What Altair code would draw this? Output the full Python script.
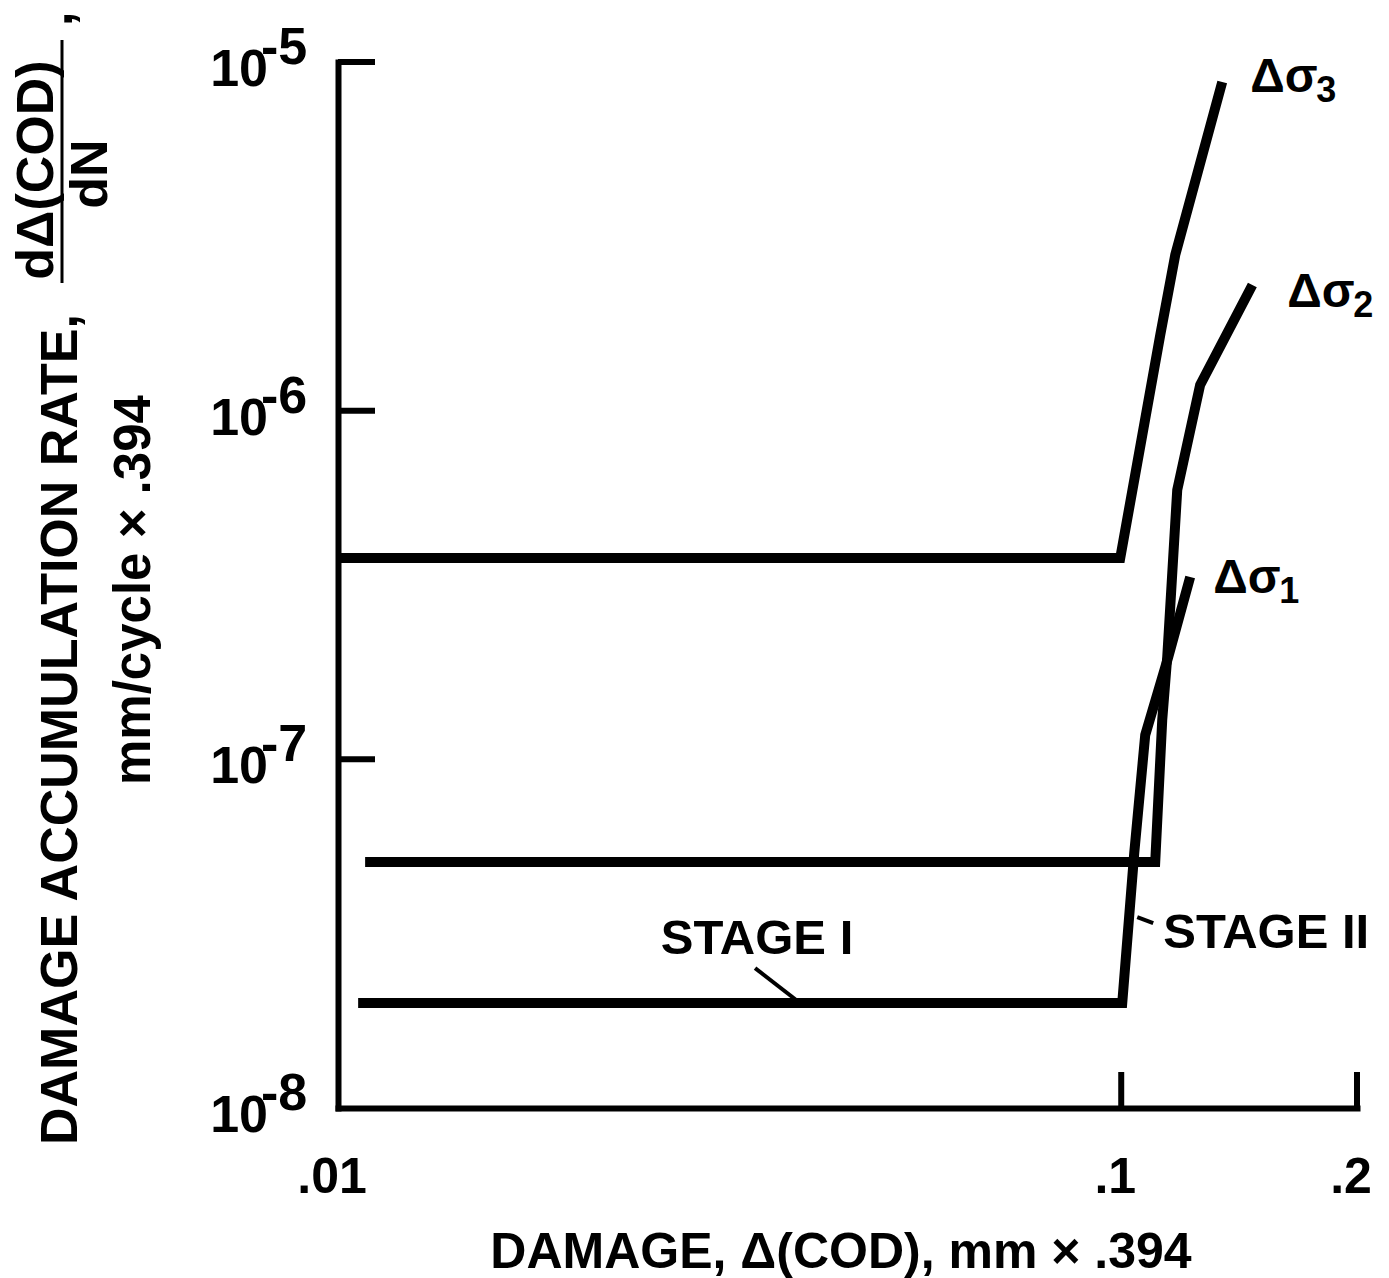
import altair as alt
import pandas as pd

FONT = "Liberation Sans"

# ---------------- data ----------------
# Delta-sigma-3
s3_x = [0.0100, 0.09971, 0.11215, 0.11721, 0.13457]
s3_y = [3.778e-7, 3.778e-7, 1.648e-6, 2.796e-6, 8.76e-6]
# Delta-sigma-2
s2_x = [0.01083, 0.11051, 0.11281, 0.11448, 0.11790, 0.12611, 0.14704]
s2_y = [5.077e-8, 5.077e-8, 1.297e-7, 1.965e-7, 5.923e-7, 1.185e-6, 2.293e-6]
# Delta-sigma-1
s1_x = [0.01061, 0.10030, 0.10390, 0.10731, 0.11482, 0.12247]
s1_y = [2.001e-8, 2.001e-8, 5.387e-8, 1.174e-7, 1.965e-7, 3.334e-7]

series_names = ["Δσ3", "Δσ2", "Δσ1"]

# tick values / labels
x_ticks = [0.01, 0.1, 0.2]
x_tick_labels = [".01", ".1", ".2"]
x_inner_ticks = [0.1, 0.2]
y_ticks = [1e-5, 1e-6, 1e-7, 1e-8]
y_tick_exps = ["-5", "-6", "-7", "-8"]
y_inner_ticks = [1e-5, 1e-6, 1e-7]

# curve labels (Δσ + subscript digit)
lab_main = ["Δσ", "Δσ", "Δσ"]
lab_sub = ["3", "2", "1"]
lab_x = [0.14617, 0.16293, 0.13106]
lab_y = [8.203e-6, 1.983e-6, 2.999e-7]

# stage annotations
stage1_text = ["STAGE I"]
stage1_x = [0.03428]
stage1_y = [2.764e-8]
stage2_text = ["STAGE II"]
stage2_x = [0.11314]
stage2_y = [2.876e-8]
# leader lines
lead_x = [0.03408, 0.10482]
lead_y = [2.52e-8, 3.530e-8]
lead_x2 = [0.03890, 0.10986]
lead_y2 = [2.001e-8, 3.393e-8]

x_title = "DAMAGE, Δ(COD), mm × .394"
y_title1 = "DAMAGE ACCUMULATION RATE,"
y_title2 = "mm/cycle × .394"
frac_num = "dΔ(COD)"
frac_den = "dN"

# ---------------- build tables ----------------
rows = []
for name, xs, ys in zip(series_names, [s3_x, s2_x, s1_x], [s3_y, s2_y, s1_y]):
    for i, (a, b) in enumerate(zip(xs, ys)):
        rows.append({"series": name, "i": i, "x": a, "y": b})
df = pd.DataFrame(rows)

W, H = 1019, 1046
xscale = alt.Scale(type="log", domain=[0.01, 0.2], nice=False)
yscale = alt.Scale(type="log", domain=[1e-8, 1e-5], nice=False)

axis_common = dict(domain=True, domainWidth=6, domainColor="black", domainCap="square",
                   ticks=False, labels=False, grid=False, title="")


def X(f):
    return alt.X(f, type="quantitative", scale=xscale, axis=alt.Axis(**axis_common))


def Y(f):
    return alt.Y(f, type="quantitative", scale=yscale, axis=alt.Axis(**axis_common))


lines = alt.Chart(df).mark_line(color="black", strokeWidth=10, strokeJoin="miter").encode(
    x=X("x"), y=Y("y"), detail="series:N", order="i:Q",
)

yt = alt.Chart(pd.DataFrame({"v": y_inner_ticks})).mark_rule(color="black", strokeWidth=6).encode(
    y=Y("v"), x=alt.value(0), x2=alt.value(37)
)
xt = alt.Chart(pd.DataFrame({"v": x_inner_ticks})).mark_rule(color="black", strokeWidth=6).encode(
    x=X("v"), y=alt.value(H), y2=alt.value(H - 36)
)

txt = dict(font=FONT, fontWeight="bold", color="black")

ylab_df = pd.DataFrame({"v": y_ticks, "e": y_tick_exps})
ylab_base = alt.Chart(ylab_df).mark_text(align="right", baseline="alphabetic", dy=24, fontSize=52, **txt).encode(
    y=Y("v"), x=alt.value(-70), text=alt.value("10")
)
ylab_exp = alt.Chart(ylab_df).mark_text(align="left", baseline="alphabetic", dy=2, fontSize=52, **txt).encode(
    y=Y("v"), x=alt.value(-77), text="e:N"
)

xlab = alt.Chart(pd.DataFrame({"v": x_ticks, "t": x_tick_labels})).mark_text(
    align="center", baseline="alphabetic", dx=-6, fontSize=50, **txt
).encode(x=X("v"), y=alt.value(1131), text="t:N")

lab_df = pd.DataFrame({"x": lab_x, "y": lab_y, "m": lab_main, "s": lab_sub})
lab_main_l = alt.Chart(lab_df).mark_text(align="left", baseline="alphabetic", fontSize=48, **txt).encode(
    x=X("x"), y=Y("y"), text="m:N"
)
lab_sub_l = alt.Chart(lab_df).mark_text(align="left", baseline="alphabetic", dx=66, dy=10, fontSize=36, **txt).encode(
    x=X("x"), y=Y("y"), text="s:N"
)

st1 = alt.Chart(pd.DataFrame({"x": stage1_x, "y": stage1_y, "t": stage1_text})).mark_text(
    align="center", baseline="alphabetic", fontSize=49, **txt
).encode(x=X("x"), y=Y("y"), text="t:N")
st2 = alt.Chart(pd.DataFrame({"x": stage2_x, "y": stage2_y, "t": stage2_text})).mark_text(
    align="left", baseline="alphabetic", fontSize=49, **txt
).encode(x=X("x"), y=Y("y"), text="t:N")

lead = alt.Chart(pd.DataFrame({"x": lead_x, "y": lead_y, "x2": lead_x2, "y2": lead_y2})).mark_rule(
    color="black", strokeWidth=4
).encode(x=X("x"), y=Y("y"), x2="x2:Q", y2="y2:Q")

one = pd.DataFrame({"k": [0]})
xtitle = alt.Chart(one).mark_text(align="center", baseline="alphabetic", fontSize=50, **txt).encode(
    x=alt.value(503), y=alt.value(1206), text=alt.value(x_title)
)
ytitle1 = alt.Chart(one).mark_text(align="left", baseline="alphabetic", angle=270, fontSize=52, **txt).encode(
    x=alt.value(-261), y=alt.value(1083), text=alt.value(y_title1)
)
ytitle2 = alt.Chart(one).mark_text(align="left", baseline="alphabetic", angle=270, fontSize=51, **txt).encode(
    x=alt.value(-188), y=alt.value(723), text=alt.value(y_title2)
)
fnum = alt.Chart(one).mark_text(align="center", baseline="alphabetic", angle=270, fontSize=52, **txt).encode(
    x=alt.value(-285), y=alt.value(108), text=alt.value(frac_num)
)
fden = alt.Chart(one).mark_text(align="center", baseline="alphabetic", angle=270, fontSize=52, **txt).encode(
    x=alt.value(-231), y=alt.value(112), text=alt.value(frac_den)
)
fbar = alt.Chart(one).mark_rule(color="black", strokeWidth=3).encode(
    x=alt.value(-276), y=alt.value(-22), y2=alt.value(221)
)
fcomma = alt.Chart(one).mark_text(align="left", baseline="alphabetic", angle=270, fontSize=52, **txt).encode(
    x=alt.value(-266), y=alt.value(-36), text=alt.value(",")
)

chart = alt.layer(
    lines, yt, xt, ylab_base, ylab_exp, xlab, lab_main_l, lab_sub_l, st1, st2, lead,
    xtitle, ytitle1, ytitle2, fnum, fden, fbar, fcomma,
).properties(
    width=W, height=H,
    autosize=alt.AutoSizeParams(type="none"),
    padding={"left": 338, "top": 62, "right": 32, "bottom": 170},
    background="white",
).configure_view(strokeWidth=0)

chart.save("out.html", embed_options={"renderer": "svg", "actions": False})
